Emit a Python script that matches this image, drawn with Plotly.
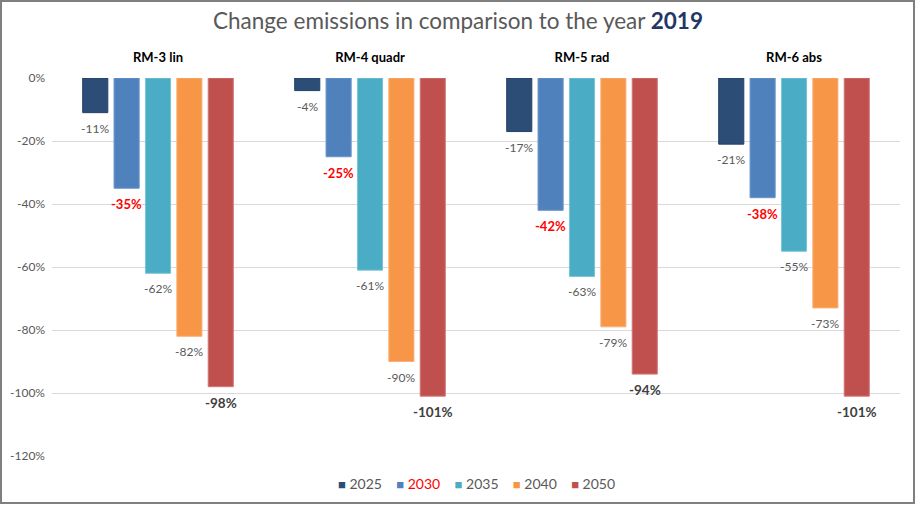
import plotly.graph_objects as go

categories = ["RM-3 lin", "RM-4 quadr", "RM-5 rad", "RM-6 abs"]
years = ["2025", "2030", "2035", "2040", "2050"]
v2025 = [-11, -4, -17, -21]
v2030 = [-35, -25, -42, -38]
v2035 = [-62, -61, -63, -55]
v2040 = [-82, -90, -79, -73]
v2050 = [-98, -101, -94, -101]
y_ticks = [0, -20, -40, -60, -80, -100, -120]

series = [v2025, v2030, v2035, v2040, v2050]
colors = ["#2C4D75", "#4F81BD", "#4BACC6", "#F79646", "#C0504D"]
lines = ["#23406A", "#6A94C9", "#7CC3D6", "#FAB07A", "#D07A77"]
label_style = {
    "2025": dict(color="#595959", size=12, bold=False),
    "2030": dict(color="#FF0000", size=13, bold=True),
    "2035": dict(color="#595959", size=12, bold=False),
    "2040": dict(color="#595959", size=12, bold=False),
    "2050": dict(color="#404040", size=13.5, bold=True),
}

FONT = "Lato, Open Sans, sans-serif"
W, H = 916, 505
ml, mr, mt, mb = 52, 16, 78, 49
pw, ph = W - ml - mr, H - mt - mb

BARGAP = 0.26
GROUPGAP = 0.2
n = len(years)
group_px = pw / len(categories)
slot_px = group_px * (1 - BARGAP) / n

fig = go.Figure()
annotations = []
for i, (yr, vals, c, lc) in enumerate(zip(years, series, colors, lines)):
    st = label_style[yr]
    fig.add_trace(go.Bar(
        x=categories, y=vals, name=yr, showlegend=False,
        marker=dict(color=c, line=dict(color=lc, width=1)),
    ))
    for cat, v in zip(categories, vals):
        txt = f"<b>{v}%</b>" if st["bold"] else f"{v}%"
        annotations.append(dict(
            x=cat, y=v, xref="x", yref="y", text=txt, showarrow=False,
            xanchor="center", yanchor="top",
            xshift=(i - (n - 1) / 2) * slot_px, yshift=-6,
            font=dict(color=st["color"], size=st["size"], family=FONT),
        ))

# legend (compact, Excel-like)
parts = []
for yr, c in zip(years, colors):
    tc = "#FF0000" if yr == "2030" else "#595959"
    parts.append(f"<span style='color:{c};font-size:13px'>■</span> <span style='color:{tc}'>{yr}</span>")
annotations.append(dict(
    x=0.5, y=(456 - 484) / ph, xref="paper", yref="paper", showarrow=False,
    xanchor="center", yanchor="middle", text="&nbsp;&nbsp;&nbsp;&nbsp;".join(parts),
    font=dict(size=14, color="#595959", family=FONT),
))

fig.update_layout(
    width=W, height=H,
    margin=dict(l=ml, r=mr, t=mt, b=mb),
    paper_bgcolor="white", plot_bgcolor="white",
    barmode="group", bargap=BARGAP, bargroupgap=GROUPGAP,
    font=dict(family=FONT, color="#595959"),
    title=dict(
        text="Change emissions in comparison to the year <b><span style='color:#1F3864'>2019</span></b>",
        x=0.5, xanchor="center", y=1 - 21 / H, yanchor="middle",
        font=dict(size=22.5, color="#595959", family=FONT),
    ),
    showlegend=False,
    annotations=annotations,
    xaxis=dict(side="top", showgrid=False, showline=False, ticks="", ticklabelstandoff=12,
               automargin=False,
               tickfont=dict(size=13, color="#000000", family=FONT, weight="bold")),
    yaxis=dict(range=[-120, 0], tickvals=y_ticks, ticktext=[f"{t}%" for t in y_ticks],
               showgrid=True, gridcolor="#D9D9D9", gridwidth=1, zeroline=False,
               showline=False, automargin=False,
               tickfont=dict(size=12, color="#595959", family=FONT),
               ticklabelstandoff=6),
    shapes=[dict(type="rect", xref="paper", yref="paper",
                 x0=(1 - ml) / pw, x1=(W - 2 - ml) / pw,
                 y0=(ph - (H - 2 - mt)) / ph, y1=(H - mb - 1) / ph,
                 line=dict(color="#7F7F7F", width=2), layer="above")],
)

fig.write_html("out.html", config={"displayModeBar": False},
               post_script="document.body.style.margin='0';document.body.style.overflow='hidden';")
